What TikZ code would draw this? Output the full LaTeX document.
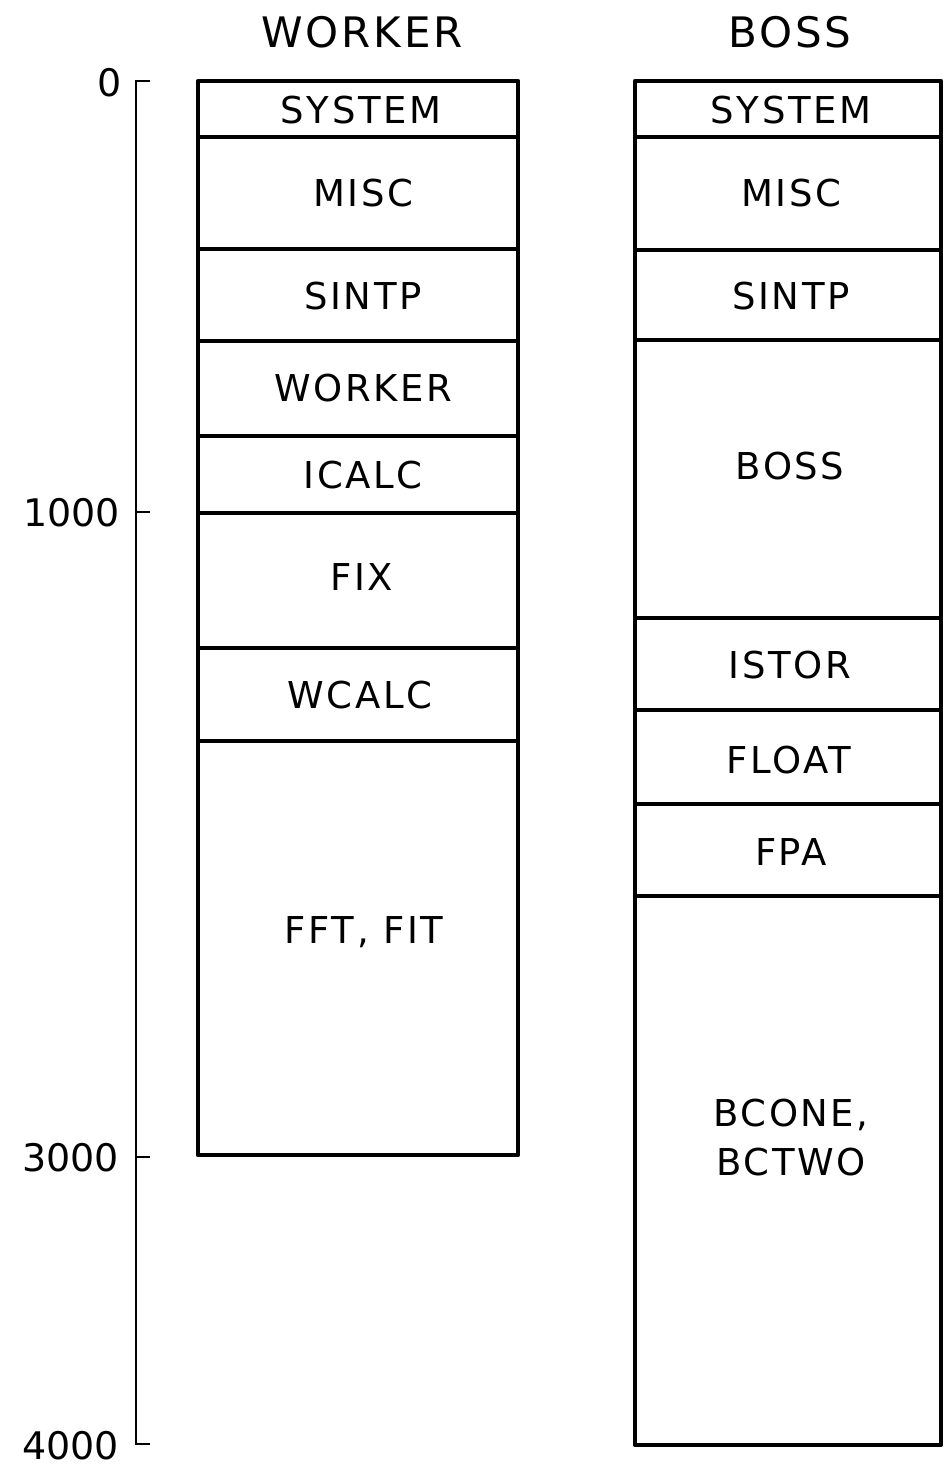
\documentclass[tikz,border=0pt]{standalone}
\usepackage{fontspec}
\setmainfont{DejaVu Sans}[LetterSpace=7]
\newfontfamily\axfont{DejaVu Sans}
\begin{document}
\begin{tikzpicture}[x=1pt,y=-1pt,
  boxline/.style={line width=4.4pt, line join=round},
  axisline/.style={line width=2.8pt},
  lbl/.style={inner sep=0pt, text depth=0pt, font=\fontsize{37}{46}\selectfont},
  ttl/.style={inner sep=0pt, text depth=0pt, font=\fontsize{42}{48}\selectfont},
  axl/.style={inner sep=0pt, text depth=0pt, anchor=east, font=\axfont\fontsize{38}{44}\selectfont}]
\useasboundingbox (0,0) rectangle (944,1472);
% axis
\draw[axisline] (150,81) -- (136,81) -- (136,1444) -- (150,1444);
\draw[axisline] (136,512) -- (150,512);
\draw[axisline] (136,1157) -- (150,1157);
\node[axl] (a0) at (122,82) {0};
\node[axl] (a1) at (120,512) {1000};
\node[axl] (a3) at (119,1157) {3000};
\node[axl] (a4) at (119,1445) {4000};
% titles
\node[ttl] (tw) at (362,32) {WORKER};
\node[ttl] (tb) at (790,32) {BOSS};
% worker box
\draw[boxline] (198,81) rectangle (518,1155);
\foreach \y in {137,249,341,436,513,648,741} \draw[boxline] (198,\y) -- (518,\y);
\node[lbl] (w1) at (361,110) {SYSTEM};
\node[lbl] (w2) at (363,193) {MISC};
\node[lbl] (w3) at (363,296) {SINTP};
\node[lbl] (w4) at (363,388) {WORKER};
\node[lbl] (w5) at (363,475) {ICALC};
\node[lbl] (w6) at (362,577) {FIX};
\node[lbl] (w7) at (360,695) {WCALC};
\node[lbl] (w8) at (364,930) {FFT, FIT};
% boss box
\draw[boxline] (635,81) rectangle (941,1445);
\foreach \y in {137,250,340,618,710,804,896} \draw[boxline] (635,\y) -- (941,\y);
\node[lbl] (b1) at (791,110) {SYSTEM};
\node[lbl] (b2) at (791,193) {MISC};
\node[lbl] (b3) at (791,296) {SINTP};
\node[lbl] (b4) at (790,466) {BOSS};
\node[lbl] (b5) at (790,665) {ISTOR};
\node[lbl] (b6) at (789,760) {FLOAT};
\node[lbl] (b7) at (791,852) {FPA};
\node[lbl, align=center, font=\fontsize{37}{49}\selectfont] (b8) at (791,1137) {BCONE,\\BCTWO};
\end{tikzpicture}
\end{document}
